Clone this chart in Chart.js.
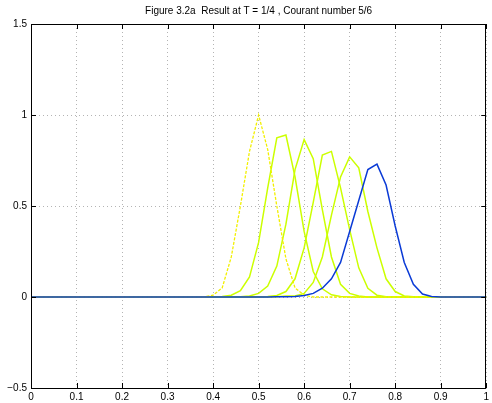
<!DOCTYPE html>
<html>
<head>
<meta charset="utf-8">
<script src="https://cdn.jsdelivr.net/npm/chart.js@4"></script>
<style>
  html, body { margin: 0; padding: 0; background: #ffffff; }
  #wrap { width: 492px; height: 403px; }
</style>
</head>
<body>
<div id="wrap"><canvas id="chart" width="492" height="403"></canvas></div>
<script>
// grid points x = 0 .. 1, step 0.02
const xs = [
  0.00, 0.02, 0.04, 0.06, 0.08, 0.10, 0.12, 0.14, 0.16, 0.18,
  0.20, 0.22, 0.24, 0.26, 0.28, 0.30, 0.32, 0.34, 0.36, 0.38,
  0.40, 0.42, 0.44, 0.46, 0.48, 0.50, 0.52, 0.54, 0.56, 0.58,
  0.60, 0.62, 0.64, 0.66, 0.68, 0.70, 0.72, 0.74, 0.76, 0.78,
  0.80, 0.82, 0.84, 0.86, 0.88, 0.90, 0.92, 0.94, 0.96, 0.98,
  1.00
];

// initial profile (dotted)
const initial = [
  0, 0, 0, 0, 0, 0, 0, 0, 0, 0,
  0, 0, 0, 0, 0, 0, 0, 0, 0, 0,
  0.01, 0.05, 0.22, 0.50, 0.80, 1.00, 0.81, 0.50, 0.21, 0.05,
  0.01, 0, 0, 0, 0, 0, 0, 0, 0, 0,
  0, 0, 0, 0, 0, 0, 0, 0, 0, 0,
  0
];

// intermediate steps (yellow-green)
const step1 = [
  0, 0, 0, 0, 0, 0, 0, 0, 0, 0,
  0, 0, 0, 0, 0, 0, 0, 0, 0, 0,
  0, 0.003, 0.01, 0.035, 0.11, 0.30, 0.60, 0.875, 0.89, 0.66,
  0.36, 0.14, 0.045, 0.012, 0.003, 0, 0, 0, 0, 0,
  0, 0, 0, 0, 0, 0, 0, 0, 0, 0,
  0
];
const step2 = [
  0, 0, 0, 0, 0, 0, 0, 0, 0, 0,
  0, 0, 0, 0, 0, 0, 0, 0, 0, 0,
  0, 0, 0, 0.002, 0.005, 0.02, 0.06, 0.17, 0.40, 0.70,
  0.865, 0.76, 0.48, 0.22, 0.07, 0.02, 0.005, 0, 0, 0,
  0, 0, 0, 0, 0, 0, 0, 0, 0, 0,
  0
];
const step3 = [
  0, 0, 0, 0, 0, 0, 0, 0, 0, 0,
  0, 0, 0, 0, 0, 0, 0, 0, 0, 0,
  0, 0, 0, 0, 0, 0.002, 0.003, 0.008, 0.03, 0.10,
  0.27, 0.52, 0.78, 0.80, 0.60, 0.37, 0.16, 0.048, 0.01, 0.002,
  0, 0, 0, 0, 0, 0, 0, 0, 0, 0,
  0
];
const step4 = [
  0, 0, 0, 0, 0, 0, 0, 0, 0, 0,
  0, 0, 0, 0, 0, 0, 0, 0, 0, 0,
  0, 0, 0, 0, 0, 0, 0, 0.002, 0.005, 0.005,
  0.02, 0.08, 0.22, 0.45, 0.66, 0.77, 0.71, 0.47, 0.27, 0.10,
  0.03, 0.006, 0.002, 0, 0, 0, 0, 0, 0, 0,
  0
];

// result at T = 1/4 (blue)
const result = [
  0, 0, 0, 0, 0, 0, 0, 0, 0, 0,
  0, 0, 0, 0, 0, 0, 0, 0, 0, 0,
  0, 0, 0, 0, 0, 0, 0, 0.001, 0.002, 0.003,
  0.008, 0.02, 0.048, 0.10, 0.19, 0.36, 0.53, 0.70, 0.73, 0.615,
  0.39, 0.19, 0.07, 0.016, 0.003, 0, 0, 0, 0, 0,
  0
];

const xTicks = [0, 0.1, 0.2, 0.3, 0.4, 0.5, 0.6, 0.7, 0.8, 0.9, 1];
const yTicks = [-0.5, 0, 0.5, 1, 1.5];

const titleText = 'Figure 3.2a  Result at T = 1/4 , Courant number 5/6';
const fontFamily = "'Liberation Sans', Arial, Helvetica, sans-serif";

const toPoints = (ys) => xs.map((x, i) => ({ x: x, y: ys[i] }));

const lineStyle = (color, width, dash) => ({
  borderColor: color,
  backgroundColor: color,
  borderWidth: width,
  borderDash: dash || [],
  pointRadius: 0,
  tension: 0,
  fill: false
});

// black box and inward tick marks, MATLAB style
const framePlugin = {
  id: 'frame',
  afterDraw(chart) {
    const { ctx, chartArea: a, scales } = chart;
    const len = 5;
    ctx.save();
    ctx.strokeStyle = '#000000';
    ctx.lineWidth = 1;
    ctx.beginPath();
    xTicks.forEach((v) => {
      const px = Math.round(scales.x.getPixelForValue(v)) + 0.5;
      ctx.moveTo(px, a.bottom);
      ctx.lineTo(px, a.bottom - len);
      ctx.moveTo(px, a.top);
      ctx.lineTo(px, a.top + len);
    });
    yTicks.forEach((v) => {
      const py = Math.round(scales.y.getPixelForValue(v)) + 0.5;
      ctx.moveTo(a.left, py);
      ctx.lineTo(a.left + len, py);
      ctx.moveTo(a.right, py);
      ctx.lineTo(a.right - len, py);
    });
    ctx.stroke();
    ctx.strokeRect(Math.round(a.left) + 0.5, Math.round(a.top) + 0.5,
      Math.round(a.right - a.left) - 1, Math.round(a.bottom - a.top));
    ctx.restore();
  }
};

new Chart(document.getElementById('chart'), {
  type: 'line',
  data: {
    datasets: [
      Object.assign({ label: 'T = 1/4', data: toPoints(result) }, lineStyle('#0a3ad6', 1.5)),
      Object.assign({ label: 'initial', data: toPoints(initial) }, lineStyle('#f2f000', 1.3, [3, 1.5])),
      Object.assign({ label: 'step 1', data: toPoints(step1) }, lineStyle('#ccff00', 1.5)),
      Object.assign({ label: 'step 2', data: toPoints(step2) }, lineStyle('#ccff00', 1.5)),
      Object.assign({ label: 'step 3', data: toPoints(step3) }, lineStyle('#ccff00', 1.5)),
      Object.assign({ label: 'step 4', data: toPoints(step4) }, lineStyle('#ccff00', 1.5))
    ]
  },
  options: {
    responsive: false,
    animation: false,
    devicePixelRatio: 1,
    layout: { padding: { left: 0, right: 1, top: 0, bottom: 0 } },
    plugins: {
      legend: { display: false },
      tooltip: { enabled: false },
      title: {
        display: true,
        text: titleText,
        fullSize: false,
        color: '#000000',
        font: { family: fontFamily, size: 10, weight: 'normal' },
        padding: { top: 5, bottom: 7 }
      }
    },
    scales: {
      x: {
        type: 'linear',
        min: 0,
        max: 1,
        afterFit: (scale) => { scale.height = 15; },
        afterBuildTicks: (scale) => { scale.ticks = xTicks.map((v) => ({ value: v })); },
        grid: { color: '#b4b4b4', lineWidth: 1, drawTicks: false },
        border: { display: false, dash: [1, 3] },
        ticks: {
          autoSkip: false,
          maxRotation: 0,
          padding: 3,
          color: '#000000',
          font: { family: fontFamily, size: 10 },
          callback: (v) => String(+v.toFixed(1))
        }
      },
      y: {
        type: 'linear',
        min: -0.5,
        max: 1.5,
        afterFit: (scale) => { scale.width = 31; },
        afterBuildTicks: (scale) => { scale.ticks = yTicks.map((v) => ({ value: v })); },
        grid: { color: '#b4b4b4', lineWidth: 1, drawTicks: false },
        border: { display: false, dash: [1, 3] },
        ticks: {
          autoSkip: false,
          padding: 4,
          color: '#000000',
          font: { family: fontFamily, size: 10 },
          callback: (v) => (v < 0 ? '\u2212' + Math.abs(v) : String(v))
        }
      }
    }
  },
  plugins: [framePlugin]
});
</script>
</body>
</html>
